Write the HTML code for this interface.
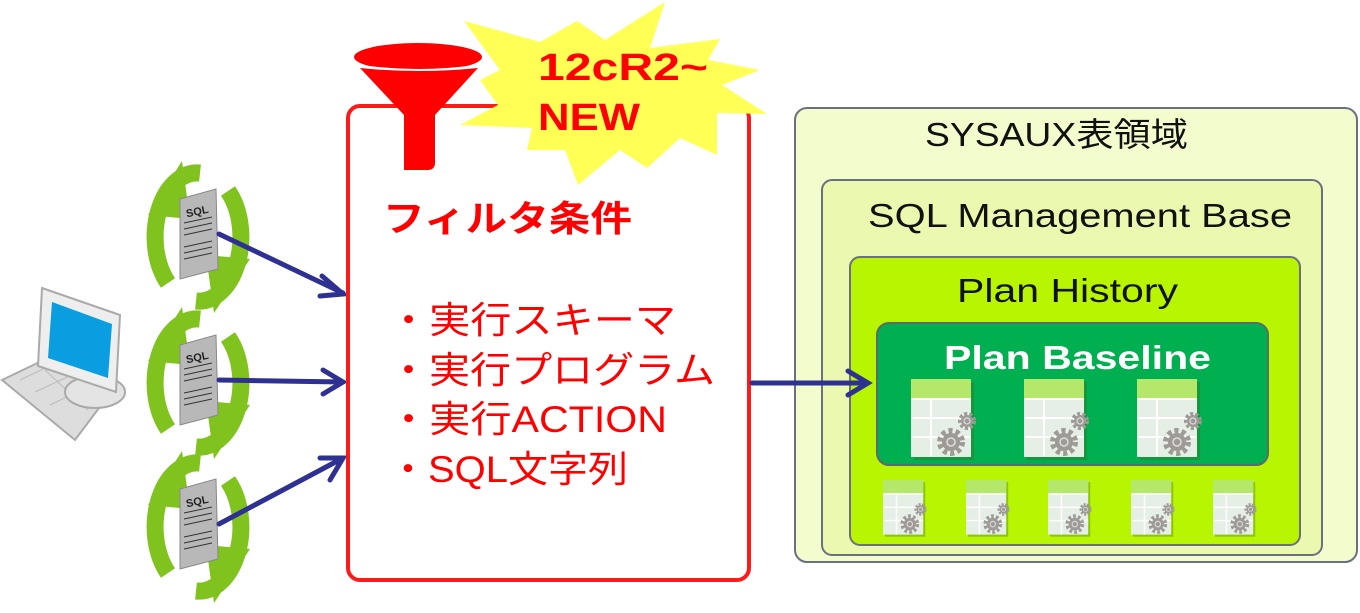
<!DOCTYPE html>
<html><head><meta charset="utf-8"><style>
html,body{margin:0;padding:0;background:#fff;width:1360px;height:613px;overflow:hidden}
text{font-family:"Liberation Sans","Noto Sans CJK JP",sans-serif}
</style></head><body>
<svg width="1360" height="613" viewBox="0 0 1360 613" xmlns="http://www.w3.org/2000/svg">
<defs>
<g id="tbl">
 <rect x="3" y="3" width="60" height="78" fill="#3a6a1a" opacity="0.35"/>
 <rect x="0" y="0" width="60" height="78" fill="#e6efe6"/>
 <rect x="0" y="0" width="60" height="19" fill="#b5e76a"/>
 <path d="M0 20H60M0 39H60M0 58H60M20 20V78" stroke="#fff" stroke-width="2"/>
 <circle cx="40" cy="63" r="11" fill="none" stroke="#9e9a96" stroke-width="6" stroke-dasharray="4 3"/>
 <circle cx="40" cy="63" r="9" fill="#9e9a96"/><circle cx="40" cy="63" r="4" fill="none" stroke="#ddd" stroke-width="1.5"/>
 <circle cx="56" cy="42" r="7" fill="none" stroke="#9e9a96" stroke-width="4" stroke-dasharray="3 2"/>
 <circle cx="56" cy="42" r="6" fill="#9e9a96"/><circle cx="56" cy="42" r="3" fill="none" stroke="#ddd" stroke-width="1.2"/>
</g>
<g id="cyc">
 <path d="M2 -64 A42 64 0 0 0 -30 46" fill="none" stroke="#80c21e" stroke-width="17"/>
 <polygon points="-50,-22 -16,-76 -8,-18" fill="#80c21e"/>
 <path d="M-2 64 A42 64 0 0 0 30 -46" fill="none" stroke="#80c21e" stroke-width="17"/>
 <polygon points="52,22 16,76 8,18" fill="#80c21e"/>
 <polygon points="-18,-38 18,-48 20,32 -18,42" fill="#b8b8b8" stroke="#888" stroke-width="1"/>
 <text x="0" y="-22" font-size="11" font-weight="bold" text-anchor="middle" transform="rotate(-12 0 -22)" fill="#222">SQL</text>
 <path d="M-14 -14L14 -20M-14 -8L14 -14M-14 -2L14 -8M-14 10L14 4M-14 16L14 10M-14 22L14 16" stroke="#333" stroke-width="1"/>
</g>
</defs>

<!-- computer -->
<g>
 <polygon points="2,380 50,357 105,400 75,440" fill="#ddd" stroke="#aaa" stroke-width="2"/>
 <path d="M20 380L62 360M35 392L78 372M50 405L92 385M45 370L88 410" stroke="#bbb" stroke-width="1"/>
 <ellipse cx="95" cy="392" rx="30" ry="16" fill="#e4e4e4" stroke="#aaa" stroke-width="2"/>
 <polygon points="42,288 120,315 116,392 38,366" fill="#eee" stroke="#aaa" stroke-width="2"/>
 <polygon points="52,302 112,324 108,378 48,358" fill="#0a9ee0"/>
</g>

<use href="#cyc" x="198" y="237"/>
<use href="#cyc" x="198" y="383"/>
<use href="#cyc" x="198" y="527"/>

<!-- arrows left -->
<g stroke="#2e3192" stroke-width="5" fill="none" stroke-linecap="round">
 <path d="M219 234L343 293M322 276L343 294L320 296"/>
 <path d="M219 380L343 382M323 370L343 382L323 394"/>
 <path d="M219 524L343 458M320 458L343 458L330 480"/>
</g>

<!-- red box -->
<rect x="348" y="106" width="401" height="474" rx="12" fill="#fff" stroke="#ff1a1a" stroke-width="4"/>

<!-- star -->
<polygon fill="#ffff55" points="464,21 540,42 577,21 605,40 665,2 650,48 720,39 708,60 760,70 722,85 767,114 717,113 717,155 680,138 647,168 620,150 578,185 565,150 527,150 532,128 460,125 498,105 480,80 500,70"/>
<text x="538" y="80" font-size="38" font-weight="bold" fill="#ff0000" textLength="170" lengthAdjust="spacingAndGlyphs">12cR2~</text>
<text x="538" y="130" font-size="38" font-weight="bold" fill="#ff0000" textLength="102" lengthAdjust="spacingAndGlyphs">NEW</text>

<!-- funnel -->
<ellipse cx="418" cy="57" rx="64" ry="14" fill="#ff0000"/>
<path d="M360 68Q418 74 478 68L435 115V164Q434 170 428 170H404V115Z" fill="#ff0000"/>
<path d="M362 66Q418 74 476 66" stroke="#fff" stroke-width="2" fill="none"/>

<text x="383" y="231" font-size="36" font-weight="bold" fill="#ff0000" textLength="249" lengthAdjust="spacingAndGlyphs">フィルタ条件</text>
<g font-size="37" fill="#ff0000">
 <text x="388" y="333" textLength="288" lengthAdjust="spacingAndGlyphs">・実行スキーマ</text>
 <text x="388" y="383" textLength="327" lengthAdjust="spacingAndGlyphs">・実行プログラム</text>
 <text x="388" y="432" textLength="279" lengthAdjust="spacingAndGlyphs">・実行ACTION</text>
 <text x="388" y="482" textLength="240" lengthAdjust="spacingAndGlyphs">・SQL文字列</text>
</g>

<!-- right boxes -->
<rect x="795" y="108" width="562" height="454" rx="12" fill="#f2fccc" stroke="#6b7080" stroke-width="2"/>
<rect x="822" y="180" width="500" height="375" rx="10" fill="#ebf9b0" stroke="#6b7080" stroke-width="2"/>
<rect x="850" y="257" width="450" height="288" rx="10" fill="#b8f500" stroke="#6b7080" stroke-width="2"/>
<rect x="877" y="323" width="391" height="142" rx="12" fill="#00b050" stroke="#5a6a70" stroke-width="2"/>

<g font-size="33" fill="#111">
 <text x="925" y="146" textLength="263" lengthAdjust="spacingAndGlyphs">SYSAUX表領域</text>
 <text x="868" y="227" textLength="424" lengthAdjust="spacingAndGlyphs">SQL Management Base</text>
 <text x="957" y="302" textLength="221" lengthAdjust="spacingAndGlyphs">Plan History</text>
</g>
<text x="944" y="369" font-size="33" font-weight="bold" fill="#fff" textLength="267" lengthAdjust="spacingAndGlyphs">Plan Baseline</text>

<use href="#tbl" x="911" y="379"/>
<use href="#tbl" x="1024" y="379"/>
<use href="#tbl" x="1137" y="379"/>
<g transform="translate(883,480) scale(0.67,0.7)"><use href="#tbl"/></g>
<g transform="translate(966,480) scale(0.67,0.7)"><use href="#tbl"/></g>
<g transform="translate(1048,480) scale(0.67,0.7)"><use href="#tbl"/></g>
<g transform="translate(1131,480) scale(0.67,0.7)"><use href="#tbl"/></g>
<g transform="translate(1213,480) scale(0.67,0.7)"><use href="#tbl"/></g>

<g stroke="#2e3192" stroke-width="5" fill="none" stroke-linecap="round">
 <path d="M752 383L868 383M848 371L868 383L848 395"/>
</g>
</svg>
</body></html>
